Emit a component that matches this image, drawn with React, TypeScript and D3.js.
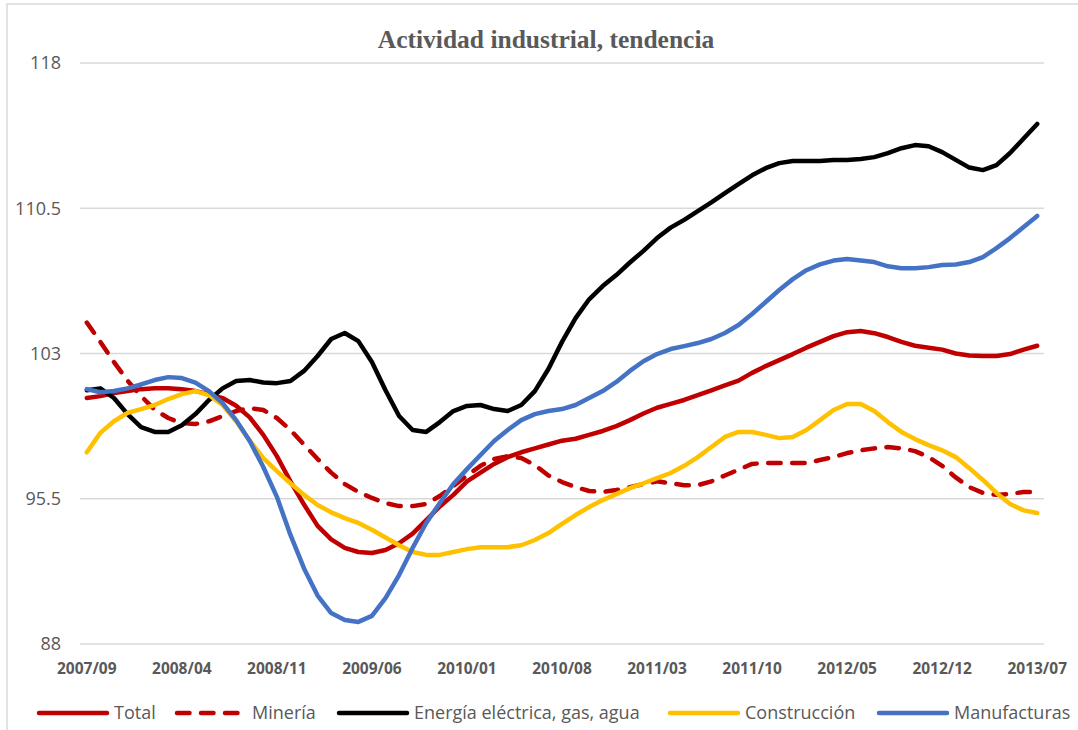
import React from 'react'
import * as d3 from 'd3'

// months 2007/09 .. 2013/07
const months = [
  '2007/09', '2007/10', '2007/11', '2007/12',
  '2008/01', '2008/02', '2008/03', '2008/04', '2008/05', '2008/06', '2008/07', '2008/08', '2008/09', '2008/10', '2008/11', '2008/12',
  '2009/01', '2009/02', '2009/03', '2009/04', '2009/05', '2009/06', '2009/07', '2009/08', '2009/09', '2009/10', '2009/11', '2009/12',
  '2010/01', '2010/02', '2010/03', '2010/04', '2010/05', '2010/06', '2010/07', '2010/08', '2010/09', '2010/10', '2010/11', '2010/12',
  '2011/01', '2011/02', '2011/03', '2011/04', '2011/05', '2011/06', '2011/07', '2011/08', '2011/09', '2011/10', '2011/11', '2011/12',
  '2012/01', '2012/02', '2012/03', '2012/04', '2012/05', '2012/06', '2012/07', '2012/08', '2012/09', '2012/10', '2012/11', '2012/12',
  '2013/01', '2013/02', '2013/03', '2013/04', '2013/05', '2013/06', '2013/07',
]

const tickLabels = ['2007/09', '2008/04', '2008/11', '2009/06', '2010/01', '2010/08', '2011/03', '2011/10', '2012/05', '2012/12', '2013/07']
const yTicks = [88, 95.5, 103, 110.5, 118]

const total = [
  100.7, 100.8, 100.96, 101.06, 101.16, 101.2, 101.2, 101.16, 101.06, 100.9,
  100.7, 100.3, 99.7, 98.8, 97.7, 96.4, 95.2, 94.1, 93.4, 92.96,
  92.75, 92.7, 92.85, 93.2, 93.7, 94.4, 95.1, 95.7, 96.4, 96.85,
  97.3, 97.65, 97.9, 98.1, 98.3, 98.5, 98.6, 98.8, 99.0, 99.25,
  99.56, 99.9, 100.2, 100.4, 100.6, 100.85, 101.1, 101.35, 101.6, 102.0,
  102.35, 102.66, 102.97, 103.3, 103.6, 103.9, 104.1, 104.16, 104.05, 103.85,
  103.6, 103.4, 103.3, 103.2, 103.0, 102.9, 102.87, 102.87, 102.97, 103.2,
  103.4,
]

const mineria = [
  104.6, 103.6, 102.56, 101.6, 100.8, 100.1, 99.67, 99.4, 99.36, 99.5,
  99.77, 100.03, 100.18, 100.08, 99.67, 99.05, 98.3, 97.55, 96.85, 96.26,
  95.85, 95.54, 95.28, 95.12, 95.12, 95.23, 95.64, 96.16, 96.7, 97.2,
  97.55, 97.7, 97.6, 97.24, 96.7, 96.36, 96.1, 95.9, 95.85, 95.95,
  96.1, 96.26, 96.4, 96.3, 96.2, 96.2, 96.4, 96.7, 97.0, 97.3,
  97.34, 97.34, 97.34, 97.34, 97.5, 97.65, 97.86, 98.0, 98.1, 98.17,
  98.1, 97.96, 97.65, 97.2, 96.6, 96.1, 95.8, 95.7, 95.75, 95.85,
  95.85,
]

const energia = [
  101.1, 101.2, 100.7, 99.87, 99.2, 98.95, 98.95, 99.3, 99.87, 100.6,
  101.2, 101.58, 101.63, 101.5, 101.47, 101.58, 102.1, 102.87, 103.75, 104.06,
  103.64, 102.56, 101.1, 99.77, 99.05, 98.95, 99.46, 100.03, 100.29, 100.34,
  100.13, 100.03, 100.34, 101.06, 102.2, 103.6, 104.83, 105.8, 106.48, 107.05,
  107.7, 108.3, 108.96, 109.5, 109.9, 110.35, 110.8, 111.28, 111.75, 112.2,
  112.57, 112.83, 112.94, 112.94, 112.94, 112.99, 112.99, 113.04, 113.14, 113.35,
  113.6, 113.76, 113.7, 113.4, 113.0, 112.6, 112.47, 112.73, 113.35, 114.1,
  114.85,
]

const construccion = [
  97.9, 98.9, 99.5, 99.93, 100.13, 100.34, 100.65, 100.9, 101.06, 100.85,
  100.34, 99.5, 98.5, 97.6, 96.93, 96.3, 95.7, 95.18, 94.8, 94.5,
  94.25, 93.9, 93.5, 93.1, 92.75, 92.6, 92.6, 92.75, 92.9, 93.0,
  93.0, 93.0, 93.1, 93.37, 93.73, 94.2, 94.66, 95.07, 95.43, 95.74,
  96.05, 96.3, 96.57, 96.83, 97.2, 97.65, 98.17, 98.69, 98.95, 98.95,
  98.8, 98.63, 98.69, 99.05, 99.56, 100.08, 100.39, 100.39, 100.03, 99.46,
  98.95, 98.58, 98.27, 98.0, 97.65, 97.08, 96.47, 95.8, 95.23, 94.9,
  94.76,
]

const manufacturas = [
  101.16, 101.0, 101.06, 101.2, 101.4, 101.63, 101.78, 101.73, 101.5, 101.06,
  100.44, 99.56, 98.48, 97.14, 95.6, 93.63, 91.9, 90.5, 89.6, 89.24,
  89.14, 89.45, 90.37, 91.56, 92.96, 94.25, 95.28, 96.26, 97.03, 97.76,
  98.48, 99.05, 99.56, 99.87, 100.03, 100.13, 100.34, 100.7, 101.06, 101.53,
  102.1, 102.6, 102.97, 103.23, 103.38, 103.54, 103.75, 104.06, 104.47, 105.04,
  105.66, 106.28, 106.84, 107.3, 107.6, 107.8, 107.88, 107.8, 107.72, 107.5,
  107.4, 107.4, 107.46, 107.57, 107.6, 107.72, 107.98, 108.44, 108.96, 109.53,
  110.1,
]

const series = [
  { name: 'Total', values: total, color: '#C00000', dash: false },
  { name: 'Minería', values: mineria, color: '#C00000', dash: true },
  { name: 'Energía eléctrica, gas, agua', values: energia, color: '#000000', dash: false },
  { name: 'Construcción', values: construccion, color: '#FFC000', dash: false },
  { name: 'Manufacturas', values: manufacturas, color: '#4472C4', dash: false },
]

// legend x positions (swatch start)
const legendX = [37, 175, 337, 668, 877]

const W = 1078
const H = 730
const plot = { left: 80, right: 1044, top: 63, bottom: 644 }
const grey = '#595959'
const sans = '"Open Sans", "Noto Sans", sans-serif'

export default function App() {
  const x = d3.scalePoint<string>().domain(months).range([plot.left, plot.right]).padding(0.5)
  const y = d3.scaleLinear().domain([88, 118]).range([plot.bottom, plot.top])

  const line = d3
    .line<number>()
    .x((_, i) => x(months[i]) as number)
    .y(d => y(d))

  return (
    <svg width={W} height={H} style={{ position: 'absolute', left: 0, top: 0, background: '#fff' }}>
      <rect x={7} y={4} width={W + 20} height={H + 20} fill="#fff" stroke="#D9D9D9" strokeWidth={1.5} />

      <text x={546} y={48} textAnchor="middle" fontFamily='"Liberation Serif", "DejaVu Serif", serif'
        fontWeight="bold" fontSize={25.5} fill={grey}>
        Actividad industrial, tendencia
      </text>

      {yTicks.map(t => (
        <g key={t}>
          <line x1={plot.left} x2={plot.right} y1={y(t)} y2={y(t)} stroke="#D9D9D9" strokeWidth={1.5} />
          <text x={61} y={y(t)} dy="0.35em" textAnchor="end" fontFamily={sans} fontSize={18} fill={grey}>
            {t}
          </text>
        </g>
      ))}

      {tickLabels.map(t => (
        <text key={t} x={x(t)} y={674} textAnchor="middle" fontFamily={sans} fontWeight="bold"
          fontSize={15.5} fill={grey}>
          {t}
        </text>
      ))}

      {series.map(s => (
        <path key={s.name} d={line(s.values) ?? ''} fill="none" stroke={s.color} strokeWidth={4.5}
          strokeLinejoin="round" strokeLinecap="round"
          strokeDasharray={s.dash ? '12.5 11.5' : undefined} />
      ))}

      {series.map((s, i) => (
        <g key={s.name} transform={`translate(${legendX[i]},713)`}>
          <line x1={2} x2={70} y1={0} y2={0} stroke={s.color} strokeWidth={4.5} strokeLinecap="round"
            strokeDasharray={s.dash ? '12.5 11.5' : undefined} />
          <text x={77} y={0} dy="0.35em" fontFamily={sans} fontSize={18} fill={grey}>
            {s.name}
          </text>
        </g>
      ))}
    </svg>
  )
}
